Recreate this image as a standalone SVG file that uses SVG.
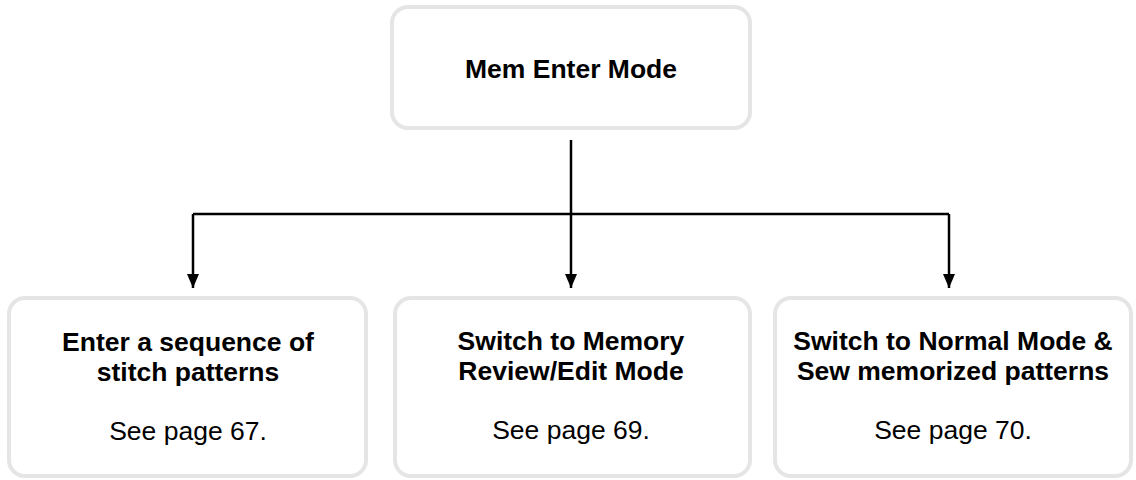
<svg xmlns="http://www.w3.org/2000/svg" width="1136" height="480" viewBox="0 0 1136 480">
<defs>
<style>
.box{fill:#ffffff;stroke:#e5e5e5;stroke-width:4}
.t{font-family:"Liberation Sans",Arial,sans-serif;font-size:26.5px;fill:#000;text-anchor:middle}
.b{font-weight:bold}
.line{fill:none;stroke:#000;stroke-width:2.5}
</style>
<marker id="arr" viewBox="0 0 14 12" refX="14" refY="6" markerWidth="14" markerHeight="12" markerUnits="userSpaceOnUse" orient="auto">
<path d="M0,0 L14,6 L0,12 Z" fill="#000"/>
</marker>
</defs>
<rect width="1136" height="480" fill="#ffffff"/>
<g id="connectors">
<line class="line" x1="571" y1="140" x2="571" y2="288" marker-end="url(#arr)"/>
<line class="line" x1="193" y1="214" x2="949" y2="214"/>
<polyline class="line" points="193,214 193,288" marker-end="url(#arr)"/>
<polyline class="line" points="949,214 949,288" marker-end="url(#arr)"/>
</g>
<g id="mem-enter-mode">
<rect class="box" x="392" y="7" width="358" height="121" rx="16"/>
<text class="t b" x="571" y="78">Mem Enter Mode</text>
</g>
<g id="enter-sequence">
<rect class="box" x="9" y="298" width="357" height="178" rx="16"/>
<text class="t b" x="188" y="351">Enter a sequence of</text>
<text class="t b" x="188" y="381">stitch patterns</text>
<text class="t" x="188" y="440">See page 67.</text>
</g>
<g id="review-edit">
<rect class="box" x="395" y="298" width="355" height="178" rx="16"/>
<text class="t b" x="571" y="350">Switch to Memory</text>
<text class="t b" x="571" y="380">Review/Edit Mode</text>
<text class="t" x="571" y="439">See page 69.</text>
</g>
<g id="normal-mode">
<rect class="box" x="775" y="298" width="356" height="178" rx="16"/>
<text class="t b" x="953" y="350">Switch to Normal Mode &amp;</text>
<text class="t b" x="953" y="380">Sew memorized patterns</text>
<text class="t" x="953" y="439">See page 70.</text>
</g>
</svg>
